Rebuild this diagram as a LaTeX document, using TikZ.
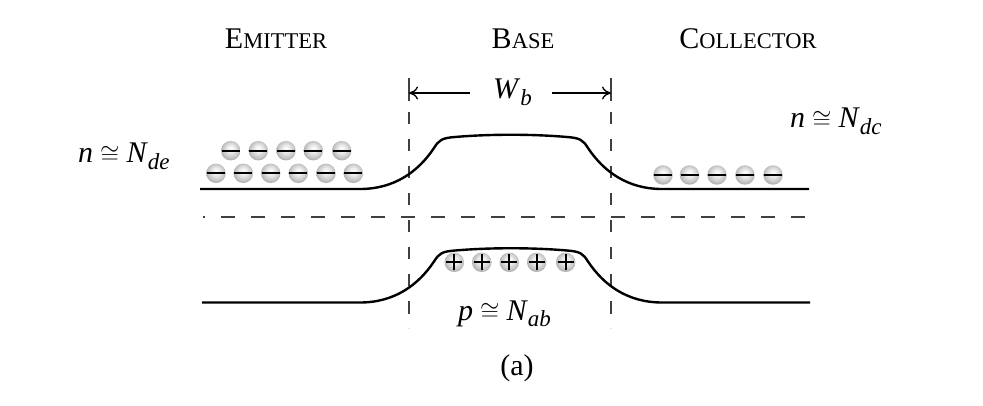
\documentclass[tikz,border=0pt]{standalone}
\usepackage{fontspec}
\setmainfont{Liberation Serif}
\usetikzlibrary{arrows.meta}
\pgfdeclareradialshading{chargeball}{\pgfpoint{0bp}{6bp}}{color(0bp)=(white); color(10bp)=(black!8); color(22bp)=(black!24); color(25bp)=(black!30); color(50bp)=(black!30)}
\newcommand\scap[2]{{\fontsize{30}{30}\selectfont #1}{\fontsize{22.5}{22.5}\selectfont #2}}
\newcommand\mlab[3]{\textit{#1}\hspace{7pt}$\cong$\hspace{7pt}\textit{#2}\raisebox{-0.22em}{\fontsize{23}{23}\selectfont\textit{#3}}}
\begin{document}
\begin{tikzpicture}[x=1pt,y=-1pt,
  band/.style={line width=2.4pt, line join=round},
  vguide/.style={line width=1.3pt, draw=black!75, dash pattern=on 12.5pt off 14.5pt},
  hguide/.style={line width=1.3pt, draw=black!75, dash pattern=on 14pt off 16pt, dash phase=12.3pt},
  arr/.style={line width=1.3pt, -{To[length=9pt,width=13pt]}},
  chg/.style={circle, minimum size=19.5pt, inner sep=0pt, shading=chargeball},
  sign/.style={line width=2.2pt, black},
  lbl/.style={inner sep=0pt, anchor=base, font=\fontsize{30}{30}\selectfont}]
\useasboundingbox (0,0) rectangle (983,406);
% titles
\node[lbl] (emit) at (276,49) {\scap{E}{MITTER}};
\node[lbl] (base) at (523,49) {\scap{B}{ASE}};
\node[lbl] (coll) at (748,49) {\scap{C}{OLLECTOR}};
% guides
\draw[line width=1.3pt, draw=black!75] (409,78) -- (409,101);
\draw[line width=1.3pt, draw=black!75] (611,78) -- (611,101);
\draw[vguide] (409,112) -- (409,328);
\draw[vguide] (611,112) -- (611,328);
\draw[hguide] (203,217) -- (806,217);
% width arrow
\coordinate (wl) at (409,93);
\coordinate (wr) at (611,93);
\coordinate (wl2) at (470,93);
\coordinate (wr2) at (552,93);
\node[lbl, anchor=base west] (wb) at (493,99) {\textit{W}\raisebox{-0.22em}{\fontsize{23}{23}\selectfont\textit{b}}};
\draw[arr] (wl2) -- (wl);
\draw[arr] (wr2) -- (wr);
% bands
\draw[band] (200,189) -- (360,189) .. controls (394,189) and (418,172) .. (434,148)
  .. controls (439,140) and (442,138) .. (455,137)
  .. controls (490,134) and (532,134) .. (567,137)
  .. controls (580,138) and (583,140) .. (588,148)
  .. controls (604,172) and (628,189) .. (662,189) -- (809,189);
\begin{scope}[yshift=-113.5pt]
\draw[band] (202,189) -- (360,189) .. controls (394,189) and (418,172) .. (434,148)
  .. controls (439,140) and (442,138) .. (455,137)
  .. controls (490,134) and (532,134) .. (567,137)
  .. controls (580,138) and (583,140) .. (588,148)
  .. controls (604,172) and (628,189) .. (662,189) -- (810,189);
\end{scope}
% labels
\node[lbl, anchor=base west] (nde) at (78,163) {\mlab{n}{N}{de}};
\node[lbl, anchor=base west] (ndc) at (790,128) {\mlab{n}{N}{dc}};
\node[lbl, anchor=base west] (nab) at (458,320) {\mlab{p}{N}{ab}};
\node[lbl] (cap) at (517,375) {(a)};
% electrons emitter
\foreach \x [count=\i] in {230.7,258.3,286,313.3,341.7} {
  \node[chg] (ea\i) at (\x,150.7) {};
  \draw[sign] ([xshift=-9pt]ea\i.center) -- ([xshift=9pt]ea\i.center);
}
\foreach \x [count=\i] in {216,243.3,270.7,298.3,326,353.3} {
  \node[chg] (eb\i) at (\x,173.3) {};
  \draw[sign] ([xshift=-9pt]eb\i.center) -- ([xshift=9pt]eb\i.center);
}
% electrons collector
\foreach \x [count=\i] in {663,689.5,717,745,773} {
  \node[chg] (ec\i) at (\x,175) {};
  \draw[sign] ([xshift=-9pt]ec\i.center) -- ([xshift=9pt]ec\i.center);
}
% holes base
\foreach \x [count=\i] in {454.3,481.7,509.3,536.7,565.7} {
  \node[chg] (hb\i) at (\x,262.3) {};
  \draw[sign] ([xshift=-8pt]hb\i.center) -- ([xshift=8pt]hb\i.center);
  \draw[sign] ([yshift=-8pt]hb\i.center) -- ([yshift=8pt]hb\i.center);
}
\end{tikzpicture}
\end{document}
